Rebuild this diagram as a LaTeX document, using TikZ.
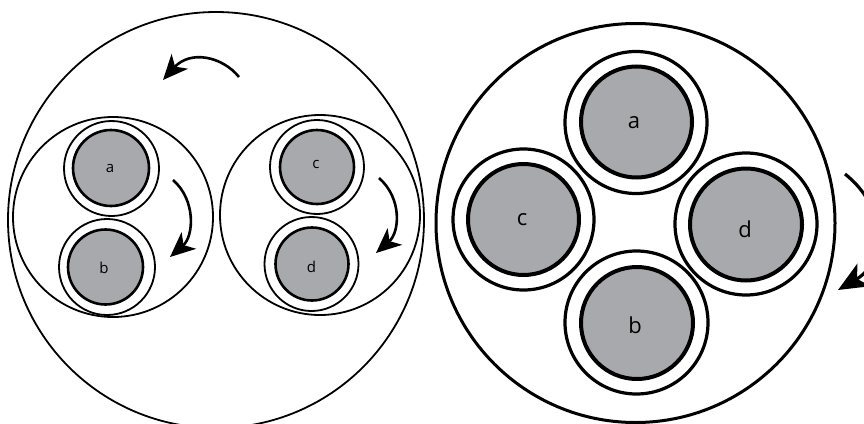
\documentclass[tikz,border=0pt]{standalone}
\usepackage{fontspec}
\setmainfont{Open Sans}
\usetikzlibrary{arrows.meta}
\definecolor{diskgray}{RGB}{167,169,172}
\tikzset{
  thinline/.style={draw=black, line width=1.8pt},
  ringL/.style={draw=black, line width=1.8pt},
  diskL/.style={draw=black, fill=diskgray, line width=2.6pt},
  ringR/.style={draw=black, line width=3.2pt},
  diskR/.style={draw=black, fill=diskgray, line width=4pt},
  bigR/.style={draw=black, line width=3pt},
  labL/.style={anchor=base, font=\fontsize{15}{15}\selectfont, inner sep=0pt},
  labR/.style={anchor=base, font=\fontsize{22}{22}\selectfont, inner sep=0pt},
  turn/.style={draw=black, line width=2.6pt, -{Stealth[length=25pt,width=22pt,inset=7pt]}},
  turnR/.style={draw=black, line width=3.2pt, -{Stealth[length=30pt,width=26pt,inset=8pt]}},
}
\begin{document}
\begin{tikzpicture}[x=1pt,y=-1pt]
\useasboundingbox (0,0) rectangle (864,423);
\clip (0,0) rectangle (864,423);
% ---------- left assembly ----------
\draw[thinline] (216,220) circle[radius=208];
\draw[thinline] (113,217) circle[radius=100];
\draw[thinline] (320,215) circle[radius=100];
% a, b
\draw[ringL] (111.5,168.5) circle[radius=47.5];
\draw[diskL] (111,168) circle[radius=38];
\draw[ringL] (107,267) circle[radius=48];
\draw[diskL] (105.5,267) circle[radius=37.5];
% c, d
\draw[ringL] (317,167) circle[radius=47];
\draw[diskL] (317,167) circle[radius=37];
\draw[ringL] (311.5,264) circle[radius=47];
\draw[diskL] (312,264) circle[radius=36.5];
\node[labL] (la) at (110,172) {a};
\node[labL] (lb) at (104,273) {b};
\node[labL] (lc) at (316,168) {c};
\node[labL] (ld) at (311.5,272) {d};
% arrows left
\coordinate (t1) at (239,77);
\coordinate (t2) at (163,80);
\draw[turn] (t1) .. controls (222,56) and (190,50) .. (t2);
\coordinate (ab1) at (173,180);
\coordinate (ab2) at (170,257);
\draw[turn] (ab1) .. controls (196,200) and (194,236) .. (ab2);
\coordinate (cd1) at (379,178);
\coordinate (cd2) at (376,253);
\draw[turn] (cd1) .. controls (402,198) and (400,232) .. (cd2);
% ---------- right assembly ----------
\draw[bigR] (635.5,223) circle[radius=199.5];
\draw[ringR] (636,122.5) circle[radius=71];
\draw[diskR] (636.5,122) circle[radius=55.5];
\draw[ringR] (523.5,219.5) circle[radius=70.5];
\draw[diskR] (523.5,219.5) circle[radius=55.5];
\draw[ringR] (746,224) circle[radius=71];
\draw[diskR] (746,224.5) circle[radius=56];
\draw[ringR] (636.5,322.5) circle[radius=71.5];
\draw[diskR] (637,323) circle[radius=56];
\node[labR] (ra) at (634,128) {a};
\node[labR] (rc) at (522,225) {c};
\node[labR] (rd) at (745,237) {d};
\node[labR] (rb) at (635,333) {b};
% right arrow
\coordinate (r1) at (845,174);
\coordinate (r2) at (838,290);
\draw[turnR] (r1) .. controls (888,208) and (886,262) .. (r2);
\end{tikzpicture}
\end{document}
